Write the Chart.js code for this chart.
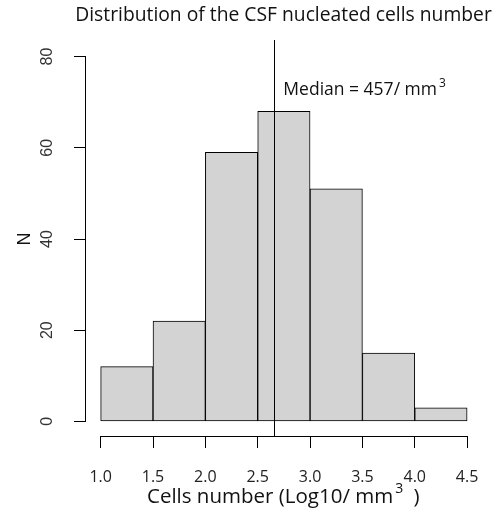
<!DOCTYPE html>
<html>
<head>
<meta charset="utf-8">
<script src="https://cdn.jsdelivr.net/npm/chart.js@4.4.0/dist/chart.umd.min.js"></script>
<style>
  html, body { margin: 0; padding: 0; background: #fff; }
  #wrap { width: 499px; height: 515px; }
</style>
</head>
<body>
<div id="wrap"><canvas id="histo" width="499" height="515"></canvas></div>
<script>
// histogram bins (log10 cells / mm3) and counts
var binEdges = [1.0, 1.5, 2.0, 2.5, 3.0, 3.5, 4.0, 4.5];
var counts = [12, 22, 59, 68, 51, 15, 3];
var xTicks = [1.0, 1.5, 2.0, 2.5, 3.0, 3.5, 4.0, 4.5];
var yTicks = [0, 20, 40, 60, 80];
var medianCells = 457;

var titleText = 'Distribution of the CSF nucleated cells number';
var xTitle = 'Cells number (Log10/ mm';
var yTitle = 'N';
var medianText = 'Median = ' + medianCells + '/ mm';

var sansFont = '"Open Sans", "Noto Sans", sans-serif';
var arialFont = '"Liberation Sans", Arial, sans-serif';

var points = [];
for (var i = 0; i < counts.length; i++) {
    points.push({ x: (binEdges[i] + binEdges[i + 1]) / 2, y: counts[i] });
}

// text with a small "3" raised after it, returns the right edge
function drawCubed(ctx, text, x, y, size) {
    ctx.font = size + 'px ' + sansFont;
    ctx.textAlign = 'left';
    ctx.textBaseline = 'alphabetic';
    ctx.fillText(text, x, y);
    var w = ctx.measureText(text).width;
    ctx.font = Math.round(size * 0.68) + 'px ' + sansFont;
    ctx.fillText('3', x + w + 2, y - size * 0.5);
    return x + w + 2 + ctx.measureText('3').width;
}

var baseAxes = {
    id: 'baseAxes',
    afterDraw: function (chart) {
        var ctx = chart.ctx;
        var xs = chart.scales.x;
        var ys = chart.scales.y;
        var area = chart.chartArea;
        ctx.save();
        ctx.strokeStyle = '#000';
        ctx.lineWidth = 1;

        // axis lines span first to last tick only
        var yb = Math.round(area.bottom) + 0.5;
        ctx.beginPath();
        ctx.moveTo(xs.getPixelForValue(xTicks[0]), yb);
        ctx.lineTo(xs.getPixelForValue(xTicks[xTicks.length - 1]), yb);
        ctx.stroke();

        var xl = Math.round(area.left) - 0.5;
        ctx.beginPath();
        ctx.moveTo(xl, ys.getPixelForValue(yTicks[0]));
        ctx.lineTo(xl, ys.getPixelForValue(yTicks[yTicks.length - 1]));
        ctx.stroke();

        // y tick labels, rotated
        ctx.fillStyle = '#333';
        ctx.font = '16px ' + arialFont;
        ctx.textAlign = 'center';
        ctx.textBaseline = 'middle';
        yTicks.forEach(function (v) {
            ctx.save();
            ctx.translate(48, ys.getPixelForValue(v));
            ctx.rotate(-Math.PI / 2);
            ctx.fillText(String(v), 0, 0);
            ctx.restore();
        });

        ctx.save();
        ctx.font = '18px ' + arialFont;
        ctx.fillStyle = '#111';
        ctx.translate(25, ys.getPixelForValue(40));
        ctx.rotate(-Math.PI / 2);
        ctx.fillText(yTitle, 0, 0);
        ctx.restore();

        // median line
        var mx = Math.round(xs.getPixelForValue(Math.log10(medianCells))) + 0.5;
        ctx.beginPath();
        ctx.moveTo(mx, area.top - 2);
        ctx.lineTo(mx, area.bottom);
        ctx.stroke();

        ctx.fillStyle = '#111';
        drawCubed(ctx, medianText, xs.getPixelForValue(2.745), ys.getPixelForValue(71.5), 17.5);

        // x title
        var right = drawCubed(ctx, xTitle, 147, 503, 20.5);
        ctx.font = '20.5px ' + sansFont;
        ctx.fillText(' )', right + 5, 503);

        // main title
        ctx.font = '19.3px ' + sansFont;
        ctx.textAlign = 'center';
        ctx.fillText(titleText, 283.5, 21);
        ctx.restore();
    }
};

new Chart(document.getElementById('histo'), {
    type: 'bar',
    data: {
        datasets: [{
            data: points,
            backgroundColor: '#d3d3d3',
            borderColor: '#000',
            borderWidth: 1,
            borderSkipped: false,
            barPercentage: 1.0,
            categoryPercentage: 1.0
        }]
    },
    options: {
        responsive: false,
        animation: false,
        devicePixelRatio: 1,
        layout: { padding: { left: 0, right: 17, top: 42, bottom: 0 } },
        plugins: { legend: { display: false }, tooltip: { enabled: false } },
        scales: {
            x: {
                type: 'linear',
                min: 0.86,
                max: 4.64,
                offset: false,
                afterBuildTicks: function (scale) {
                    scale.ticks = xTicks.map(function (v) { return { value: v }; });
                },
                afterFit: function (scale) { scale.height = 79; },
                grid: { offset: false, drawOnChartArea: false, drawTicks: true, tickLength: 12, color: '#000' },
                border: { display: false },
                ticks: {
                    padding: 20,
                    color: '#222',
                    font: { family: sansFont, size: 16 },
                    maxRotation: 0,
                    callback: function (v) { return Number(v).toFixed(1); }
                }
            },
            y: {
                min: -3.2,
                max: 83.2,
                afterBuildTicks: function (scale) {
                    scale.ticks = yTicks.map(function (v) { return { value: v }; });
                },
                afterFit: function (scale) { scale.width = 86; },
                grid: { drawOnChartArea: false, drawTicks: true, tickLength: 12, color: '#000' },
                border: { display: false },
                ticks: { display: false }
            }
        }
    },
    plugins: [baseAxes]
});
</script>
</body>
</html>
